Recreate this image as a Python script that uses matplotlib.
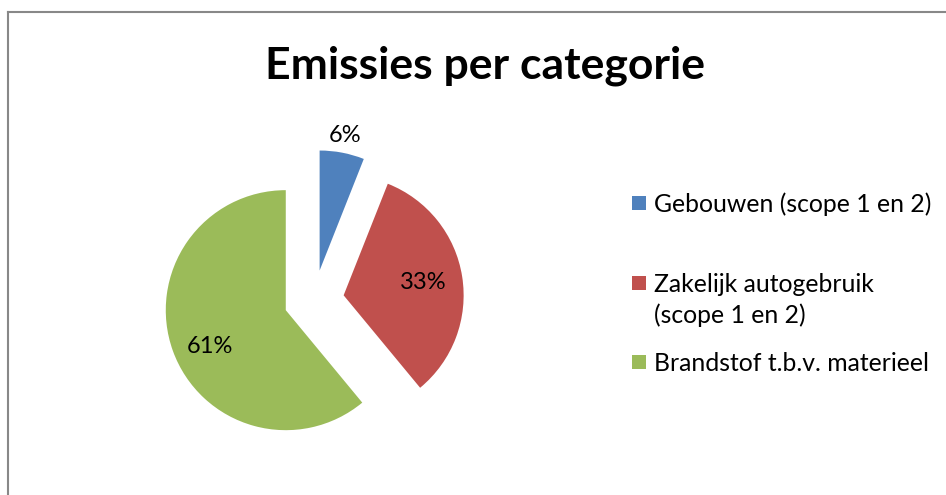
import matplotlib
matplotlib.use('Agg')
import matplotlib.pyplot as plt
from matplotlib.patches import Rectangle
from matplotlib.lines import Line2D

# Data
categories = ['Gebouwen (scope 1 en 2)',
              'Zakelijk autogebruik\n(scope 1 en 2)',
              'Brandstof t.b.v. materieel']
values     = [6, 33, 61]
colors     = ['#4F81BD', '#C0504D', '#9BBB59']
title      = 'Emissies per categorie'

W, H = 946, 495
plt.rcParams['font.family'] = ['Lato', 'DejaVu Sans']

fig = plt.figure(figsize=(W/100., H/100.), dpi=100)

# chart frame (top and left edges only visible)
fig.add_artist(Line2D([8/W, 1.0], [1-12/H, 1-12/H], color='#888888', lw=1.5))
fig.add_artist(Line2D([8/W, 8/W], [1-12/H, 0.0], color='#888888', lw=1.5))

# pie axes, centre at (314,300) px, radius 120 px
r_px = 120.
half = 1.5
cx, cy = 314, 300
ax = fig.add_axes([(cx - half*r_px)/W, (H - cy - half*r_px)/H,
                   2*half*r_px/W, 2*half*r_px/H])
wedges, texts, autotexts = ax.pie(values, colors=colors, startangle=90,
                                  counterclock=False,
                                  explode=[0.25]*len(values),
                                  autopct='%d%%', pctdistance=0.67,
                                  textprops={'fontsize': 17, 'color': 'black'})
ax.set_xlim(-half, half)
ax.set_ylim(-half, half)
ax.set_aspect('equal')
ax.axis('off')

# small slice label sits outside the wedge
x0, y0 = autotexts[0].get_position()
autotexts[0].set_position((x0*1.5, y0*1.52))
# big slice label a little lower, as in the original
x2, y2 = autotexts[2].get_position()
autotexts[2].set_position((x2, y2 - 0.08))

# title
fig.text(485/W, 1-78/H, title, ha='center', va='baseline',
         fontsize=32, fontweight='bold')

# legend, drawn by hand so the marker lines up with the first text line
baselines = [212, 292, 371]
linestep = 31
for cat, col, yb in zip(categories, colors, baselines):
    fig.add_artist(Rectangle((632/W, 1-(yb-2)/H), 14/W, 14/H,
                             facecolor=col, edgecolor='none',
                             transform=fig.transFigure))
    for k, line in enumerate(cat.split('\n')):
        fig.text(654/W, 1-(yb + k*linestep)/H, line, ha='left',
                 va='baseline', fontsize=17.8)

plt.savefig('out.png', dpi=100)
